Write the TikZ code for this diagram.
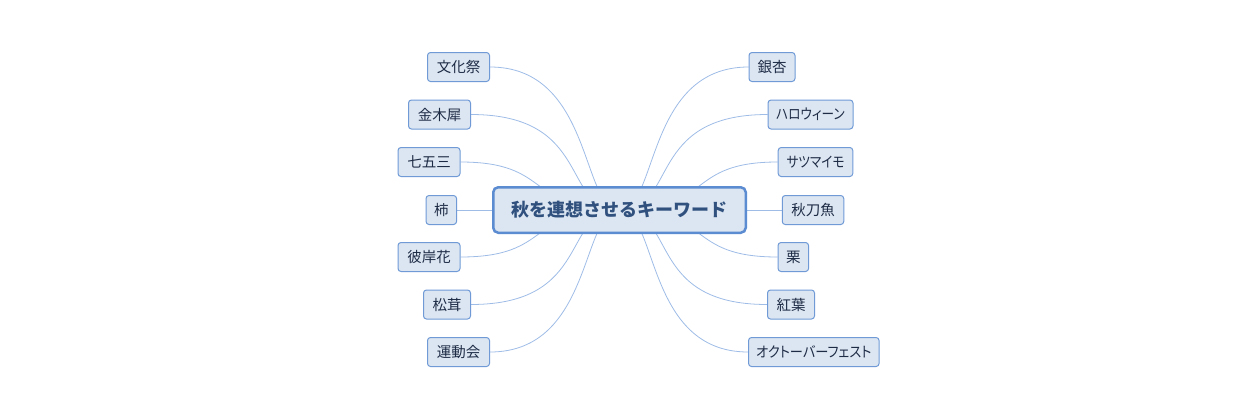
\documentclass[tikz,border=0pt]{standalone}
\usepackage{fontspec}
\setmainfont{Noto Sans CJK JP}
\newfontfamily\leaffont{Noto Sans CJK JP}[RawFeature=+palt]
\newfontfamily\kanafont{Noto Sans CJK JP}[RawFeature=+palt, FakeStretch=0.87]
\newfontfamily\kanawidefont{Noto Sans CJK JP}[RawFeature=+palt, FakeStretch=0.91]
\usetikzlibrary{backgrounds}
\definecolor{boxfill}{HTML}{DCE6F2}
\definecolor{leafborder}{HTML}{6F9AD6}
\definecolor{centerborder}{HTML}{5B8BD0}
\definecolor{linkcol}{HTML}{9EBCE6}
\definecolor{centertext}{HTML}{30507E}
\definecolor{leaftext}{HTML}{1E2B45}
\tikzset{
  leaf/.style={draw=leafborder, fill=boxfill, rounded corners=3pt, line width=1pt,
    minimum height=29pt, inner sep=0pt, font=\leaffont\fontsize{14.5}{16}\selectfont, text=leaftext},
  kana/.style={font=\kanafont\fontsize{14.5}{16}\selectfont},
  kanawide/.style={font=\kanawidefont\fontsize{14.5}{16}\selectfont},
  hub/.style={draw=centerborder, fill=boxfill, rounded corners=5pt, line width=2.5pt,
    minimum width=252.5pt, minimum height=45.5pt, inner sep=0pt,
    font=\bfseries\fontsize{18}{20}\selectfont, text=centertext},
  link/.style={draw=linkcol, line width=0.8pt},
}
\begin{document}
\begin{tikzpicture}[x=1pt,y=-1pt]
\useasboundingbox (0,0) rectangle (1259,402);
\node[hub] (c) at (619.5,210) {秋を連想させるキーワード};
% left
\node[leaf, minimum width=62] (l1) at (458.5,67) {文化祭};
\node[leaf, minimum width=62] (l2) at (439.5,114.5) {金木犀};
\node[leaf, minimum width=62] (l3) at (429,162) {七五三};
\node[leaf, minimum width=30.5] (l4) at (441.3,210) {柿};
\node[leaf, minimum width=62] (l5) at (429,257) {彼岸花};
\node[leaf, minimum width=47] (l6) at (447,304.5) {松茸};
\node[leaf, minimum width=62] (l7) at (458.5,352) {運動会};
% right
\node[leaf, minimum width=46] (r1) at (772,67) {銀杏};
\node[leaf, kana, minimum width=85] (r2) at (810.5,114.5) {ハロウィーン};
\node[leaf, kana, minimum width=74.6] (r3) at (815.5,162) {サツマイモ};
\node[leaf, minimum width=61.5] (r4) at (813,210) {秋刀魚};
\node[leaf, minimum width=30.5] (r5) at (793.3,257) {栗};
\node[leaf, minimum width=47] (r6) at (791,304.5) {紅葉};
\node[leaf, kanawide, minimum width=130.5] (r7) at (813.8,352) {オクトーバーフェスト};
\begin{scope}[on background layer]
\draw[link] (l1.east) .. controls +(103,0) and +(-38.5,0) .. (c.center);
\draw[link] (l2.east) .. controls +(122,0) and +(-58.7,0) .. (c.center);
\draw[link] (l3.east) .. controls +(93,0) and +(-94.5,0) .. (c.center);
\draw[link] (l4.east) -- (c.center);
\draw[link] (l5.east) .. controls +(93,0) and +(-94.5,0) .. (c.center);
\draw[link] (l6.east) .. controls +(122,0) and +(-58.7,0) .. (c.center);
\draw[link] (l7.east) .. controls +(103,0) and +(-38.5,0) .. (c.center);
\draw[link] (r1.west) .. controls +(-103,0) and +(38.5,0) .. (c.center);
\draw[link] (r2.west) .. controls +(-122,0) and +(58.7,0) .. (c.center);
\draw[link] (r3.west) .. controls +(-93,0) and +(94.5,0) .. (c.center);
\draw[link] (r4.west) -- (c.center);
\draw[link] (r5.west) .. controls +(-93,0) and +(94.5,0) .. (c.center);
\draw[link] (r6.west) .. controls +(-122,0) and +(58.7,0) .. (c.center);
\draw[link] (r7.west) .. controls +(-103,0) and +(38.5,0) .. (c.center);
\end{scope}
\end{tikzpicture}
\end{document}
